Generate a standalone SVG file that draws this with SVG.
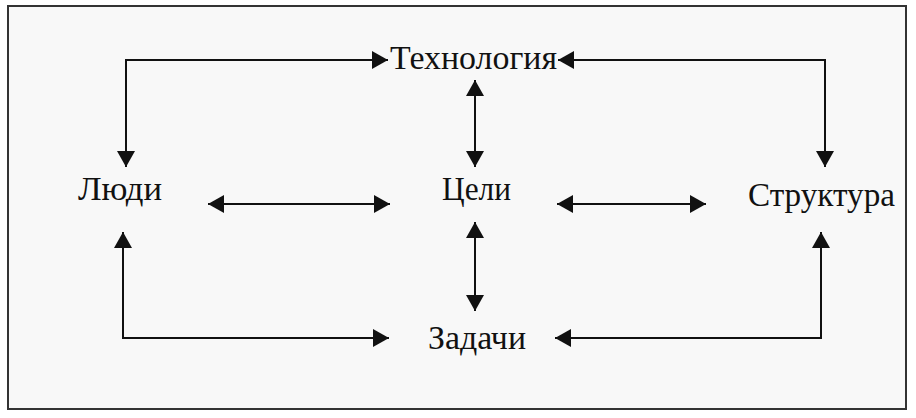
<svg xmlns="http://www.w3.org/2000/svg" width="916" height="418" viewBox="0 0 916 418">
<style>
.t{font-family:"Liberation Serif","Times New Roman",serif;font-size:33px;fill:#111}
.c{fill:none;stroke:#111;stroke-width:2}
</style>
<defs>
<marker id="ah" viewBox="0 0 16 18" refX="16" refY="9" markerWidth="16" markerHeight="18" markerUnits="userSpaceOnUse" orient="auto-start-reverse">
<path d="M0,0 L16,9 L0,18 Z" fill="#111"/>
</marker>
</defs>
<rect x="0" y="0" width="916" height="418" fill="#ffffff"/>
<rect x="8" y="6" width="898" height="403" fill="#f8f8f8" stroke="#333" stroke-width="2"/>
<g id="connectors">
<path class="c" d="M388,60 H126 V167" marker-start="url(#ah)" marker-end="url(#ah)"/>
<path class="c" d="M558,60 H825 V167" marker-start="url(#ah)" marker-end="url(#ah)"/>
<path class="c" d="M475,80 V167" marker-start="url(#ah)" marker-end="url(#ah)"/>
<path class="c" d="M208,204 H390" marker-start="url(#ah)" marker-end="url(#ah)"/>
<path class="c" d="M557,204 H706" marker-start="url(#ah)" marker-end="url(#ah)"/>
<path class="c" d="M475,222 V311" marker-start="url(#ah)" marker-end="url(#ah)"/>
<path class="c" d="M123,232 V338 H389" marker-start="url(#ah)" marker-end="url(#ah)"/>
<path class="c" d="M555,338 H821 V232" marker-start="url(#ah)" marker-end="url(#ah)"/>
</g>
<g id="tech"><text class="t" x="390" y="69" textLength="167" lengthAdjust="spacingAndGlyphs">Технология</text></g>
<g id="people"><text class="t" x="78" y="200" textLength="84" lengthAdjust="spacingAndGlyphs">Люди</text></g>
<g id="goals"><text class="t" x="442" y="200" textLength="69" lengthAdjust="spacingAndGlyphs">Цели</text></g>
<g id="structure"><text class="t" x="748" y="206" textLength="147" lengthAdjust="spacingAndGlyphs">Структура</text></g>
<g id="tasks"><text class="t" x="428" y="349" textLength="98" lengthAdjust="spacingAndGlyphs">Задачи</text></g>
</svg>
